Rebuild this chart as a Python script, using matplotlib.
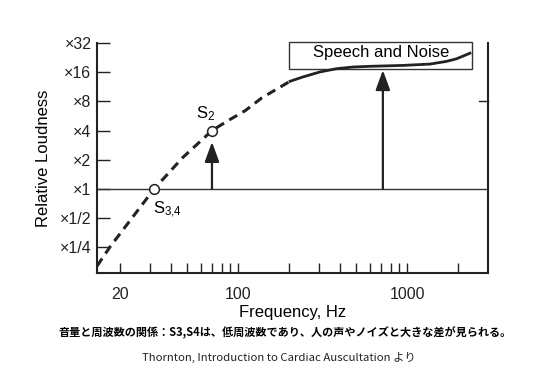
import numpy as np
import matplotlib.pyplot as plt
from matplotlib.patches import Rectangle

plt.rcParams['font.family'] = ['Liberation Sans', 'DejaVu Sans']
plt.rcParams['mathtext.fontset'] = 'custom'
plt.rcParams['mathtext.rm'] = 'Liberation Sans'

# 曲線 (周波数 Hz, 相対音量)
dash_freq = [14.6, 17.5, 23.9, 31.8, 47, 70, 87, 110, 138, 189, 203]
dash_loud = [0.16, 0.255, 0.52, 1.0, 2.11, 4.0, 5.06, 6.41, 8.69, 12.0, 12.9]
solid_freq = [203, 242, 305, 383, 479, 603, 946, 1366, 1714, 1963, 2355]
solid_loud = [12.9, 14.3, 16.1, 17.4, 18.1, 18.4, 18.8, 19.4, 20.7, 22.0, 25.1]

# 心音の点と矢印
point_freq = [31.8, 70]
point_loud = [1.0, 4.0]
point_labels = [r'$\mathrm{S_{3{,}4}}$', r'$\mathrm{S_2}$']
arrow_freq = [70, 719]
arrow_top = [3.05, 16.8]

box_freq = [200, 2420]
box_loud = [17.1, 33.1]

yticks = [0.25, 0.5, 1, 2, 4, 8, 16, 32]
yticklabels = ['×1/4', '×1/2', '×1', '×2', '×4', '×8', '×16', '×32']
xticks = [20, 100, 1000]
xminor = [30, 40, 50, 60, 70, 80, 90, 200, 300, 400, 500, 600, 700, 800, 900, 2000]

fig = plt.figure(figsize=(5.37, 3.74), dpi=100)
ax = fig.add_axes([0.1806, 0.270, 0.728, 0.615])

ax.set_xscale('log')
ax.set_yscale('log', base=2)
ax.set_xlim(14.6, 3010)
ax.set_ylim(2 ** -2.88, 32)

ax.axhline(1, color='#333333', lw=1)

ax.plot(dash_freq, dash_loud, color='#222222', lw=2.2, dashes=(3, 2))
ax.plot(solid_freq, solid_loud, color='#222222', lw=2.0)

for f, top in zip(arrow_freq, arrow_top):
    ax.annotate('', xy=(f, top), xytext=(f, 1),
                arrowprops=dict(arrowstyle='-|>,head_length=0.6,head_width=0.22',
                                mutation_scale=20, lw=1.6, color='#222222',
                                shrinkA=0, shrinkB=0))

ax.plot(point_freq, point_loud, 'o', ms=7, mfc='white', mec='#222222', mew=1.1, zorder=5)
ax.annotate(point_labels[0], (point_freq[0], point_loud[0]), xytext=(-0.5, -7.5),
            textcoords='offset points', ha='left', va='top', fontsize=12)
ax.annotate(point_labels[1], (point_freq[1], point_loud[1]), xytext=(2, 5.5),
            textcoords='offset points', ha='right', va='bottom', fontsize=12)

ax.add_patch(Rectangle((box_freq[0], box_loud[0]), box_freq[1] - box_freq[0],
                       box_loud[1] - box_loud[0], fill=False, ec='#333333',
                       lw=1, clip_on=False, zorder=1))
ax.text(700, 25.8, 'Speech and Noise', ha='center', va='center', fontsize=12)

ax.set_yticks(yticks)
ax.set_yticklabels(yticklabels)
ax.yaxis.set_minor_locator(plt.NullLocator())
ax.set_xticks(xticks)
ax.set_xticklabels([str(t) for t in xticks])
ax.set_xticks(xminor, minor=True)
ax.xaxis.set_minor_formatter(plt.NullFormatter())
ax.tick_params(axis='both', which='both', direction='in', colors='#222222',
               labelsize=11.5, width=1)
ax.tick_params(axis='y', length=9, pad=4)
ax.tick_params(axis='x', which='both', length=7, pad=10)

ax.spines['top'].set_visible(False)
for s in ['left', 'bottom', 'right']:
    ax.spines[s].set_linewidth(1.5)
    ax.spines[s].set_color('#222222')

# 右軸の目盛り (×8 のみ)
ax.plot([0.976, 1.0], [8, 8], transform=ax.get_yaxis_transform(),
        color='#222222', lw=1, clip_on=False)

ax.set_ylabel('Relative Loudness', fontsize=12, labelpad=6)
ax.set_xlabel('Frequency, Hz', fontsize=12, labelpad=2)

fig.text(285 / 537, 1 - 333 / 374,
         '音量と周波数の関係：S3,S4は、低周波数であり、人の声やノイズと大きな差が見られる。',
         ha='center', va='center', fontsize=8, fontweight='bold',
         family=['Noto Sans CJK JP', 'DejaVu Sans'])
fig.text(279 / 537, 1 - 357 / 374,
         'Thornton, Introduction to Cardiac Auscultation より',
         ha='center', va='center', fontsize=8.2, color='#222222',
         family=['Noto Sans CJK JP', 'DejaVu Sans'])

fig.savefig('out.png', dpi=100)
